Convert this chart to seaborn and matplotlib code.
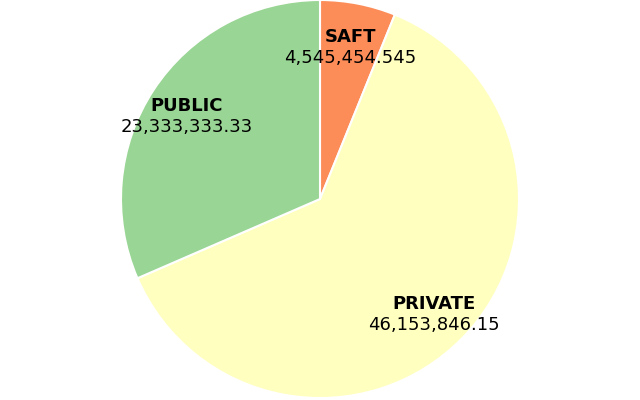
import numpy as np
import matplotlib
matplotlib.use("Agg")
import matplotlib.pyplot as plt
import seaborn as sns

# slice data, clockwise from 12 o'clock
categories = ["SAFT", "PRIVATE", "PUBLIC"]
values = [4545454.545, 46153846.15, 23333333.33]
value_labels = ["4,545,454.545", "46,153,846.15", "23,333,333.33"]
colors = ["#fc8d59", "#ffffbf", "#99d594"]

sns.set_theme(style="white")
plt.rcParams["font.family"] = ["DejaVu Sans"]

fig = plt.figure(figsize=(6.4, 4.0), dpi=100)
ax = fig.add_axes([0, 0, 1, 1])

wedges, _ = ax.pie(values, colors=colors, startangle=90, counterclock=False,
                   wedgeprops=dict(edgecolor="white", linewidth=1.5))

# labels inside each slice: bold name above, value below
for w, name, val in zip(wedges, categories, value_labels):
    mid = np.deg2rad((w.theta1 + w.theta2) / 2)
    x, y = 0.8 * np.cos(mid), 0.8 * np.sin(mid) - 0.025
    ax.text(x, y + 0.01, name, ha="center", va="bottom", fontsize=13,
            fontweight="bold", color="black")
    ax.text(x, y - 0.005, val, ha="center", va="top", fontsize=13,
            color="black")

ax.set_xlim(-1.6, 1.6)
ax.set_ylim(-1.01, 1.0)
ax.set_aspect("equal")
ax.axis("off")

fig.savefig("out.png", dpi=100)
plt.close(fig)
